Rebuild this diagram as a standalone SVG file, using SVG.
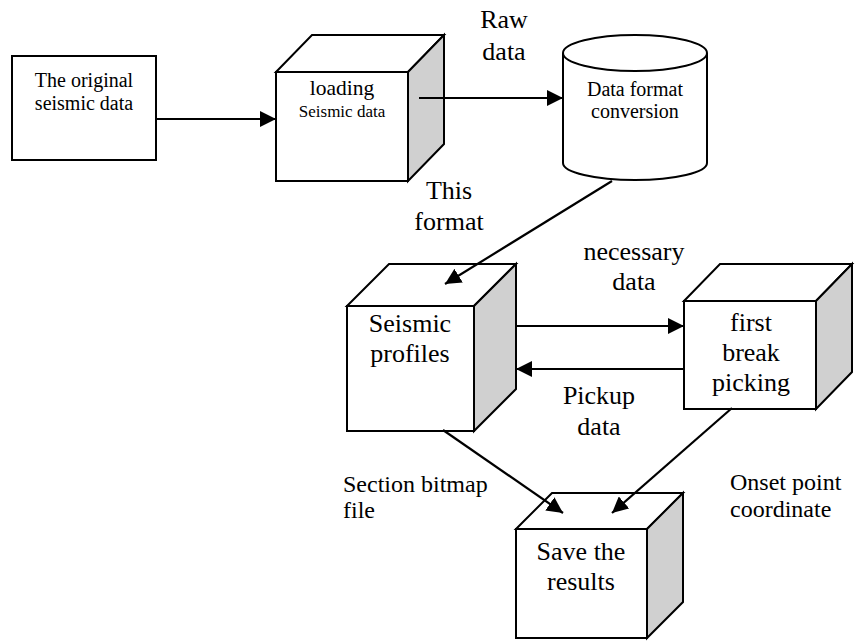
<svg xmlns="http://www.w3.org/2000/svg" width="855" height="642" viewBox="0 0 855 642">
<style>
.box{fill:#fff;stroke:#000;stroke-width:2;stroke-linejoin:miter}
.side{fill:#d0d0d0;stroke:#000;stroke-width:2}
.ln{fill:none;stroke:#000;stroke-width:2.2;marker-end:url(#ah)}
text{font-family:'Liberation Serif','Times New Roman','DejaVu Serif',serif;fill:#000}
.c{text-anchor:middle}
.t26{font-size:26px}
.t24{font-size:24px}
.t20{font-size:20px}
</style>
<defs>
<marker id="ah" viewBox="0 0 16 16" refX="16" refY="8" markerWidth="16" markerHeight="16" markerUnits="userSpaceOnUse" orient="auto">
<path d="M0,0 L16,8 L0,16 z" fill="#000"/>
</marker>
</defs>
<rect width="855" height="642" fill="#fff"/>
<g font-family="Liberation Serif, DejaVu Serif, serif">
<g id="original">
<rect class="box" x="12" y="56" width="144" height="104"/>
<text class="c t20" x="84" y="87">The original</text>
<text class="c t20" x="84" y="110">seismic data</text>
</g>
<g id="loading">
<rect class="box" x="276" y="72" width="132" height="109"/>
<polygon class="box" points="276,72 312,35 444,35 408,72"/>
<polygon class="side" points="408,72 444,35 444,144 408,181"/>
<text class="c" x="342" y="95" font-size="21.5">loading</text>
<text class="c" x="342" y="117" font-size="17">Seismic data</text>
</g>
<g id="conversion">
<path class="box" d="M563,53 L563,163 A72,17 0 0 0 707,163 L707,53"/>
<ellipse class="box" cx="635" cy="53" rx="72" ry="18"/>
<text class="c t20" x="635" y="96">Data format</text>
<text class="c t20" x="635" y="118">conversion</text>
</g>
<g id="profiles">
<rect class="box" x="347" y="306" width="127" height="125"/>
<polygon class="box" points="347,306 389,264 516,264 474,306"/>
<polygon class="side" points="474,306 516,264 516,389 474,431"/>
<text class="c t26" x="410" y="332">Seismic</text>
<text class="c t26" x="410" y="362">profiles</text>
</g>
<g id="picking">
<rect class="box" x="684" y="301" width="132" height="108"/>
<polygon class="box" points="684,301 720,264 852,264 816,301"/>
<polygon class="side" points="816,301 852,264 852,372 816,409"/>
<text class="c t26" x="751" y="331">first</text>
<text class="c t26" x="751" y="361">break</text>
<text class="c t26" x="751" y="391">picking</text>
</g>
<g id="save">
<rect class="box" x="516" y="529" width="131" height="109"/>
<polygon class="box" points="516,529 552,493 683,493 647,529"/>
<polygon class="side" points="647,529 683,493 683,602 647,638"/>
<text class="c t26" x="581" y="560">Save the</text>
<text class="c t26" x="581" y="590">results</text>
</g>
<g id="connectors">
<line class="ln" x1="156" y1="119" x2="276" y2="119"/>
<line class="ln" x1="419" y1="98" x2="563" y2="98"/>
<line class="ln" x1="612" y1="181" x2="445" y2="284"/>
<line class="ln" x1="516" y1="326" x2="684" y2="326"/>
<line class="ln" x1="684" y1="369" x2="516" y2="369"/>
<line class="ln" x1="443" y1="430" x2="563" y2="513"/>
<line class="ln" x1="732" y1="408" x2="612" y2="513"/>
</g>
<g id="labels">
<text class="c t26" x="504" y="28">Raw</text>
<text class="c t26" x="504" y="60">data</text>
<text class="c t26" x="449" y="199">This</text>
<text class="c t26" x="449" y="230">format</text>
<text class="c t26" x="634" y="260">necessary</text>
<text class="c t26" x="634" y="290">data</text>
<text class="c t26" x="599" y="404">Pickup</text>
<text class="c t26" x="599" y="435">data</text>
<text class="t24" x="343" y="492">Section bitmap</text>
<text class="t24" x="343" y="518">file</text>
<text class="t24" x="730" y="490">Onset point</text>
<text class="t24" x="730" y="517">coordinate</text>
</g>
</g>
</svg>
